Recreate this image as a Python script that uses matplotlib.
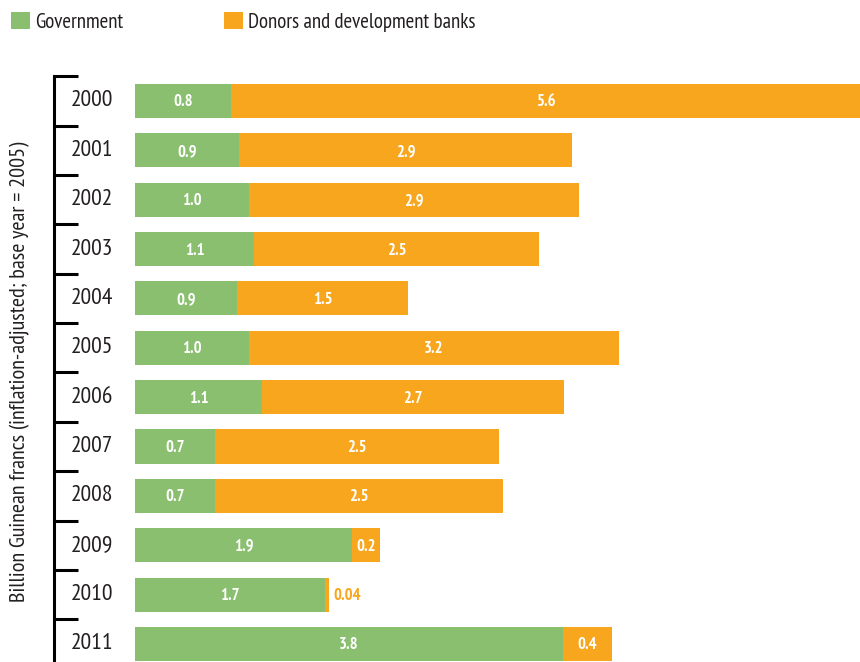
import matplotlib
matplotlib.use("Agg")
import matplotlib.pyplot as plt
from matplotlib.transforms import blended_transform_factory

plt.rcParams['font.family'] = ['PT Sans Narrow', 'Roboto Condensed', 'DejaVu Sans']

years = ["2000", "2001", "2002", "2003", "2004", "2005",
         "2006", "2007", "2008", "2009", "2010", "2011"]
government = [0.85, 0.92, 1.01, 1.05, 0.90, 1.01, 1.12, 0.71, 0.71, 1.92, 1.68, 3.78]
donors = [5.55, 2.94, 2.91, 2.52, 1.51, 3.26, 2.67, 2.50, 2.54, 0.24, 0.035, 0.43]
gov_labels = ["0.8", "0.9", "1.0", "1.1", "0.9", "1.0", "1.1", "0.7", "0.7", "1.9", "1.7", "3.8"]
don_labels = ["5.6", "2.9", "2.9", "2.5", "1.5", "3.2", "2.7", "2.5", "2.5", "0.2", "0.04", "0.4"]

GREEN = "#8ABF6F"
ORANGE = "#F7A61E"
TXT = "#231F20"

fig = plt.figure(figsize=(8.6, 6.62), dpi=100)
W, H = 860, 662
ax_left, ax_right = 54, 860
ax_top, ax_bottom = 76.3, 668.6
ax = fig.add_axes([ax_left / W, 1 - ax_bottom / H, (ax_right - ax_left) / W, (ax_bottom - ax_top) / H])

ypos = list(range(len(years)))
bh = 0.69
b1 = ax.barh(ypos, government, height=bh, color=GREEN, label="Government")
b2 = ax.barh(ypos, donors, left=government, height=bh, color=ORANGE, label="Donors and development banks")

ax.set_xlim(-0.715, 6.4)
ax.set_ylim(len(years) - 0.5, -0.5)

lblfont = dict(fontsize=12, fontweight='bold')
for i in ypos:
    g, d = government[i], donors[i]
    ax.text(g / 2, i + 0.03, gov_labels[i], ha='center', va='center', color='white', **lblfont)
    if d < 0.15:
        ax.text(g + d + 0.04, i + 0.03, don_labels[i], ha='left', va='center', color=ORANGE, **lblfont)
    else:
        ax.text(g + d / 2, i + 0.03, don_labels[i], ha='center', va='center', color='white', **lblfont)

trans = blended_transform_factory(ax.transAxes, ax.transData)
for i, y in enumerate(years):
    ax.text(38 / 806, i, y, ha='center', va='center', fontsize=17,
            color=TXT, transform=trans)

for s in ['top', 'right', 'bottom']:
    ax.spines[s].set_visible(False)
ax.spines['left'].set_linewidth(2.2)
ax.spines['left'].set_color('black')
ax.set_xticks([])
ax.set_yticks([i - 0.5 for i in range(len(years))] + [len(years) - 0.5])
ax.set_yticklabels([])
ax.tick_params(axis='y', direction='in', length=17, width=2.2, color='black')

fig.text(20 / W, 1 - 372 / H, "Billion Guinean francs (inflation-adjusted; base year = 2005)",
         rotation=90, ha='center', va='center', fontsize=16, color=TXT)

fig.legend(handles=[b1, b2], loc='upper left', bbox_to_anchor=(11 / W, 1 - 12 / H),
           ncol=2, frameon=False, borderpad=0, borderaxespad=0,
           prop=dict(size=15),
           handlelength=0.9, handleheight=0.9, handletextpad=0.25, columnspacing=4.85,
           labelcolor=TXT)

fig.savefig("out.png", dpi=100)
